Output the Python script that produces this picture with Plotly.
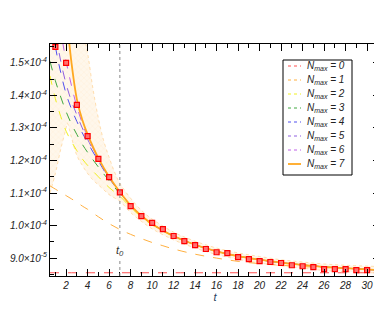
import numpy as np
import plotly.graph_objects as go

S = 1e-5  # values below are read in units of 1e-5

# data points (red squares)
t_data = list(range(1, 32))
v_data = [15.49, 15.0, 13.71, 12.75, 12.05, 11.49, 11.02, 10.60, 10.29, 10.08,
          9.89, 9.68, 9.52, 9.40, 9.28, 9.18, 9.15, 9.03, 8.97, 8.91,
          8.88, 8.85, 8.78, 8.75, 8.72, 8.66, 8.66, 8.66, 8.63, 8.63, 8.60]

# fit curves
t_fit = [0.5, 1, 1.5, 2, 2.5, 3, 3.5, 4, 5, 6, 7,
         8, 9, 10, 11, 12, 14, 16, 18, 20, 22, 24, 26, 28, 31.2]
tail = [10.62, 10.30, 10.05, 9.85, 9.68, 9.41, 9.21, 9.06, 8.95, 8.86, 8.79, 8.73, 8.69, 8.63]
tail2 = [10.56, 10.26, 10.02, 9.83, 9.66, 9.40, 9.20, 9.05, 8.94, 8.86, 8.79, 8.73, 8.69, 8.63]
nmax0 = [8.55] * 25
nmax1 = [11.22, 11.12, 11.02, 10.92, 10.82, 10.72, 10.6, 10.5, 10.27, 10.06, 9.88,
         9.73, 9.6, 9.48, 9.38, 9.28, 9.12, 9.0, 8.9, 8.83, 8.78, 8.74, 8.71, 8.68, 8.65]
nmax2 = [14.6, 13.9, 13.35, 12.9, 12.58, 12.3, 12.05, 11.85, 11.5, 11.17, 10.9] + tail2
nmax3 = [15.05, 14.45, 13.95, 13.5, 13.12, 12.8, 12.5, 12.25, 11.8, 11.38, 10.98] + tail
nmax4 = [16.6, 15.5, 14.7, 14.05, 13.58, 13.2, 12.85, 12.55, 11.98, 11.45, 11.02] + tail
nmax5 = [17.5, 16.0, 15.05, 14.35, 13.82, 13.4, 13.0, 12.65, 12.02, 11.47, 11.03] + tail
nmax6 = [19.5, 17.2, 16.0, 15.05, 14.3, 13.65, 13.15, 12.72, 12.05, 11.48, 11.03] + tail
nmax7 = [22.0, 20.0, 18.5, 16.6, 15.0, 13.88, 13.25, 12.8, 12.07, 11.5, 11.03] + tail

# error band of the Nmax = 7 fit
t_band = [0.5, 1, 1.5, 2, 2.1, 2.5, 3, 3.5, 4, 4.5, 5, 5.5, 6, 6.5, 7,
          8, 9, 10, 12, 14, 16, 18, 20, 22, 24, 26, 28, 31.2]
band_hi = [20, 20, 20, 20, 20, 19, 17.0, 16.1, 15.3, 14.2, 13.3, 12.6, 12.1, 11.65, 11.3,
           10.84, 10.47, 10.2, 9.8, 9.52, 9.31, 9.16, 9.05, 8.95, 8.88, 8.82, 8.78, 8.74]
band_lo = [11.0, 11.6, 12.35, 13.0, 13.15, 12.7, 12.15, 11.85, 11.6, 11.4, 11.25, 11.1, 10.95,
           10.85, 10.75, 10.4, 10.13, 9.9, 9.56, 9.31, 9.11, 8.96, 8.85, 8.76, 8.69, 8.62, 8.58, 8.54]

t0 = 7
y_ticks = [9.0, 10.0, 11.0, 12.0, 13.0, 14.0, 15.0]
y_labels = ["9.0×10<sup>-5</sup>", "1.0×10<sup>-4</sup>", "1.1×10<sup>-4</sup>", "1.2×10<sup>-4</sup>",
            "1.3×10<sup>-4</sup>", "1.4×10<sup>-4</sup>", "1.5×10<sup>-4</sup>"]

fits = [
    ("0", nmax0, "#ff5050", "dash", 1),
    ("1", nmax1, "#ffb040", "dash", 1),
    ("2", nmax2, "#f0f020", "dash", 1),
    ("3", nmax3, "#40a840", "dash", 1),
    ("4", nmax4, "#5050f0", "dash", 1),
    ("5", nmax5, "#9060e0", "dash", 1),
    ("6", nmax6, "#c060e8", "dash", 1),
    ("7", nmax7, "#ffa820", "solid", 1.8),
]

# the page body adds an 8px margin, so the figure is drawn 8px smaller/shifted
W, H = 374, 319
L, R, T, B = 42, 372, 36, 268


def px(x):
    return (x - 8 - L) / (R - L)


def py(y):
    return 1 - (y - 8 - T) / (B - T)


fig = go.Figure()

fig.add_trace(go.Scatter(x=t_band, y=np.array(band_hi) * S, mode="lines",
                         line=dict(color="rgba(255,190,100,0.6)", width=0.8, dash="dot", shape="spline"),
                         showlegend=False, hoverinfo="skip"))
fig.add_trace(go.Scatter(x=t_band, y=np.array(band_lo) * S, mode="lines", fill="tonexty",
                         fillcolor="rgba(255,200,120,0.15)",
                         fillpattern=dict(shape="x", fgcolor="rgba(255,180,90,0.5)", size=4, solidity=0.12),
                         line=dict(color="rgba(255,190,100,0.6)", width=0.8, dash="dot", shape="spline"),
                         showlegend=False, hoverinfo="skip"))

for name, vals, col, dash, w in fits:
    fig.add_trace(go.Scatter(x=t_fit, y=np.array(vals) * S, mode="lines", showlegend=False,
                             line=dict(color=col, dash=dash, width=w, shape="spline")))

fig.add_trace(go.Scatter(x=t_data, y=np.array(v_data) * S, mode="markers", showlegend=False,
                         marker=dict(symbol="square", size=5, color="#ff7070",
                                     line=dict(color="#ff0000", width=1.2))))

fig.add_shape(type="line", x0=t0, x1=t0, y0=0, y1=1, xref="x", yref="paper",
              line=dict(color="#888888", width=1, dash="dot"))
fig.add_annotation(x=t0, y=9.22 * S, text="t<sub>0</sub>", showarrow=False,
                   font=dict(size=11, style="italic", color="#333"), bgcolor="white")

# legend box (pixel positions from the reference page)
fig.add_shape(type="rect", xref="paper", yref="paper", x0=px(283), x1=px(352), y0=py(175), y1=py(60),
              line=dict(color="black", width=1), fillcolor="white", layer="above")
for i, (name, vals, col, dash, w) in enumerate(fits):
    yy = 66 + 14 * i
    fig.add_shape(type="line", xref="paper", yref="paper", x0=px(288), x1=px(301), y0=py(yy), y1=py(yy),
                  line=dict(color=col, width=w, dash="dot" if dash == "dash" else "solid"), layer="above")
    fig.add_annotation(xref="paper", yref="paper", x=px(305), y=py(yy), xanchor="left", yanchor="middle",
                       text="N<sub>max</sub> = " + name, showarrow=False,
                       font=dict(size=10, style="italic", color="#222"))

fig.update_xaxes(range=[0.5, 31.2], tickmode="linear", tick0=0, dtick=2,
                 ticks="inside", ticklen=7, tickcolor="black", showline=True, linecolor="black",
                 mirror="allticks", showgrid=False, zeroline=False, automargin=False,
                 minor=dict(ticks="inside", ticklen=4, dtick=1, tickcolor="black"),
                 tickfont=dict(size=10, style="italic", color="#222"),
                 title=dict(text="t", font=dict(size=11, style="italic"), standoff=0))
fig.update_yaxes(range=[8.45 * S, 15.58 * S], tickvals=np.array(y_ticks) * S, ticktext=y_labels,
                 ticks="inside", ticklen=7, tickcolor="black", showline=True, linecolor="black",
                 mirror="allticks", showgrid=False, zeroline=False, automargin=False,
                 minor=dict(ticks="inside", ticklen=4, dtick=0.5 * S, tick0=0, tickcolor="black"),
                 tickfont=dict(size=10, style="italic", color="#222"))

fig.update_layout(
    width=W, height=H,
    margin=dict(l=L, r=W - R, t=T, b=H - B),
    plot_bgcolor="white", paper_bgcolor="white",
    font=dict(family="Liberation Sans, Arial, sans-serif"),
    showlegend=False,
)

fig.write_html("out.html")
